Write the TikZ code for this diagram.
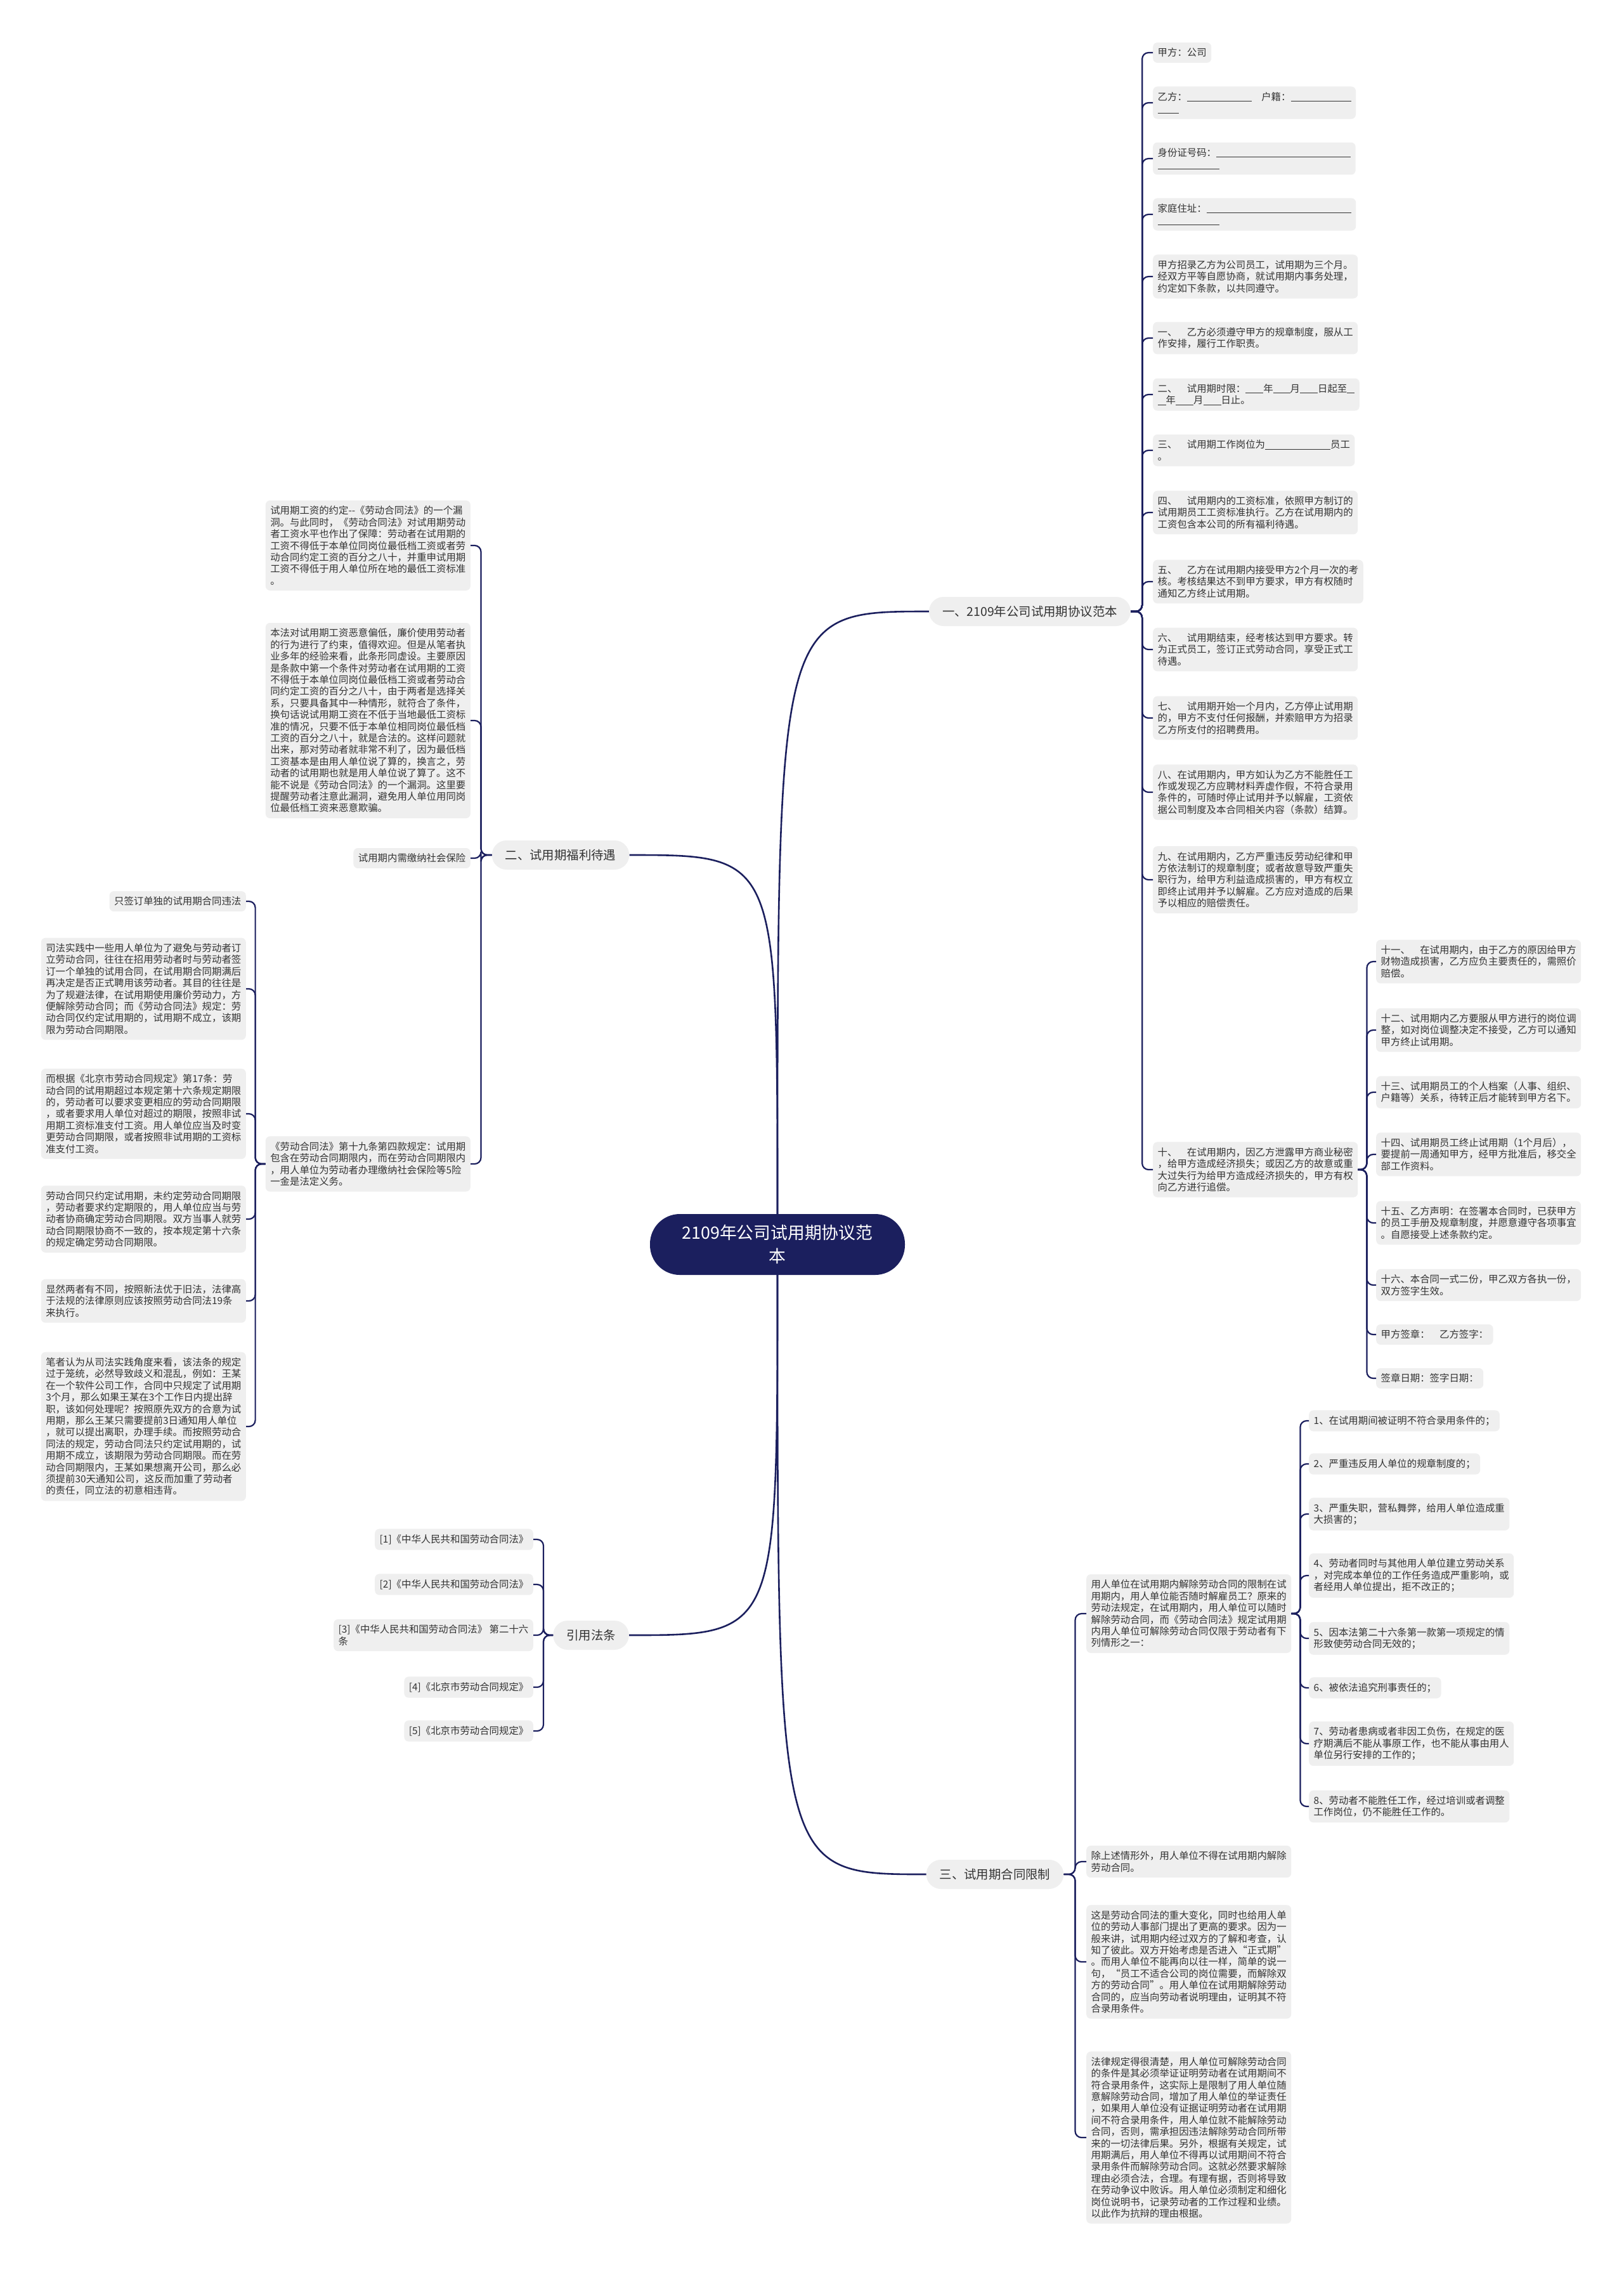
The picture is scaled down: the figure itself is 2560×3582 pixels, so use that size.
\documentclass[tikz,border=0pt]{standalone}
\usepackage{fontspec}
\setmainfont{Noto Sans CJK SC}
\usetikzlibrary{calc}
\definecolor{navy}{HTML}{1B1F5E}
\definecolor{leafbg}{HTML}{EFEFEF}
\definecolor{ink}{HTML}{333333}

\newcommand{\fillin}[1]{\rule[-2pt]{#1pt}{0.9pt}}

\begin{document}
\begin{tikzpicture}[
    x=1pt, y=-1pt,
    root/.style={rounded corners=47pt, fill=navy, text=white, align=center,
                 minimum width=402pt, minimum height=96pt,
                 font=\fontsize{26.8}{36.7}\selectfont},
    topic/.style={rounded corners=23pt, fill=leafbg, text=ink,
                  minimum height=46pt, inner xsep=21pt,
                  font=\fontsize{19.4}{23}\selectfont},
    leaf/.style={rounded corners=7pt, fill=leafbg, text=ink, align=left,
                 inner xsep=7.5pt, inner ysep=8.8pt,
                 font=\fontsize{15.4}{18.4}\selectfont},
    link/.style={draw=navy, line width=2.2pt, rounded corners=10pt},
    trunk/.style={draw=navy, line width=2.6pt},
]

\def\rx{1818}   % right column, left edge
\def\tx{2170}   % sub list of item ten
\def\lx{742}    % left column, right edge
\def\kx{388}    % far left column, right edge
\def\fx{841}    % citations, right edge
\def\sx{1713}   % lower right column
\def\ux{2064}   % list of cases

\useasboundingbox (0,0) rectangle (2560,3582);
\fill[white] (0,0) rectangle (2560,3582);

% ── Root and main branches ──
\node[root] (root) at (1226,1962) {2109年公司试用期协议范\\本};
\node[topic] (one)   at (1624,964)  {一、2109年公司试用期协议范本};
\node[topic] (two)   at (884,1348)  {二、试用期福利待遇};
\node[topic] (cite)  at (932,2578)  {引用法条};
\node[topic] (three) at (1569,2955) {三、试用期合同限制};

\draw[trunk] (root.north) .. controls (root.north |- one.west) .. (one.west);
\draw[trunk] (root.north) .. controls (root.north |- two.east) .. (two.east);
\draw[trunk] (root.south) .. controls (root.south |- cite.east) .. (cite.east);
\draw[trunk] (root.south) .. controls (root.south |- three.west) .. (three.west);

% ── Branch one: contract text ──
\node[leaf, anchor=west] (r1) at (\rx,83) {甲方：公司};
\node[leaf, anchor=west] (r2) at (\rx,162) {乙方：\fillin{102}\hspace{1em}户籍：\fillin{95}\\\fillin{33}};
\node[leaf, anchor=west] (r3) at (\rx,250) {身份证号码：\fillin{212}\\\fillin{97}};
\node[leaf, anchor=west] (r4) at (\rx,338) {家庭住址：\fillin{228}\\\fillin{97}};
\node[leaf, anchor=west] (r5) at (\rx,436) {甲方招录乙方为公司员工，试用期为三个月。\\经双方平等自愿协商，就试用期内事务处理，\\约定如下条款，以共同遵守。};
\node[leaf, anchor=west] (r6) at (\rx,533) {一、\hspace{1em}乙方必须遵守甲方的规章制度，服从工\\作安排，履行工作职责。};
\node[leaf, anchor=west] (r7) at (\rx,622) {二、\hspace{1em}试用期时限：\fillin{28}年\fillin{27}月\fillin{28}日起至\fillin{12}\\\fillin{13}年\fillin{28}月\fillin{28}日止。};
\node[leaf, anchor=west] (r8) at (\rx,710) {三、\hspace{1em}试用期工作岗位为\fillin{103}员工\\。};
\node[leaf, anchor=west] (r9) at (\rx,808) {四、\hspace{1em}试用期内的工资标准，依照甲方制订的\\试用期员工工资标准执行。乙方在试用期内的\\工资包含本公司的所有福利待遇。};
\node[leaf, anchor=west] (r10) at (\rx,917) {五、\hspace{1em}乙方在试用期内接受甲方2个月一次的考\\核。考核结果达不到甲方要求，甲方有权随时\\通知乙方终止试用期。};
\node[leaf, anchor=west] (r11) at (\rx,1024) {六、\hspace{1em}试用期结束，经考核达到甲方要求。转\\为正式员工，签订正式劳动合同，享受正式工\\待遇。};
\node[leaf, anchor=west] (r12) at (\rx,1132) {七、\hspace{1em}试用期开始一个月内，乙方停止试用期\\的，甲方不支付任何报酬，并索赔甲方为招录\\乙方所支付的招聘费用。};
\node[leaf, anchor=west] (r13) at (\rx,1249) {八、在试用期内，甲方如认为乙方不能胜任工\\作或发现乙方应聘材料弄虚作假，不符合录用\\条件的，可随时停止试用并予以解雇，工资依\\据公司制度及本合同相关内容（条款）结算。};
\node[leaf, anchor=west] (r14) at (\rx,1387) {九、在试用期内，乙方严重违反劳动纪律和甲\\方依法制订的规章制度；或者故意导致严重失\\职行为，给甲方利益造成损害的，甲方有权立\\即终止试用并予以解雇。乙方应对造成的后果\\予以相应的赔偿责任。};
\node[leaf, anchor=west] (r15) at (\rx,1844) {十、\hspace{1em}在试用期内，因乙方泄露甲方商业秘密\\，给甲方造成经济损失；或因乙方的故意或重\\大过失行为给甲方造成经济损失的，甲方有权\\向乙方进行追偿。};

\foreach \i in {1,...,15}
    \draw[link] (one.east) -- ++(18,0) |- (r\i.west);

% ── Sub list under item ten ──
\node[leaf, anchor=west] (t1) at (\tx,1516) {十一、\hspace{1em}在试用期内，由于乙方的原因给甲方\\财物造成损害，乙方应负主要责任的，需照价\\赔偿。};
\node[leaf, anchor=west] (t2) at (\tx,1624) {十二、试用期内乙方要服从甲方进行的岗位调\\整，如对岗位调整决定不接受，乙方可以通知\\甲方终止试用期。};
\node[leaf, anchor=west] (t3) at (\tx,1722) {十三、试用期员工的个人档案（人事、组织、\\户籍等）关系，待转正后才能转到甲方名下。};
\node[leaf, anchor=west] (t4) at (\tx,1820) {十四、试用期员工终止试用期（1个月后），\\要提前一周通知甲方，经甲方批准后，移交全\\部工作资料。};
\node[leaf, anchor=west] (t5) at (\tx,1928) {十五、乙方声明：在签署本合同时，已获甲方\\的员工手册及规章制度，并愿意遵守各项事宜\\。自愿接受上述条款约定。};
\node[leaf, anchor=west] (t6) at (\tx,2026) {十六、本合同一式二份，甲乙双方各执一份，\\双方签字生效。};
\node[leaf, anchor=west] (t7) at (\tx,2104) {甲方签章：\hspace{1em}乙方签字：};
\node[leaf, anchor=west] (t8) at (\tx,2173) {签章日期：签字日期：};

\foreach \i in {1,...,8}
    \draw[link] (r15.east) -- ++(14,0) |- (t\i.west);

% ── Branch two: wages and insurance ──
\node[leaf, anchor=east] (l1) at (\lx,860) {试用期工资的约定-{}-《劳动合同法》的一个漏\\洞。与此同时，《劳动合同法》对试用期劳动\\者工资水平也作出了保障：劳动者在试用期的\\工资不得低于本单位同岗位最低档工资或者劳\\动合同约定工资的百分之八十，并重申试用期\\工资不得低于用人单位所在地的最低工资标准\\。};
\node[leaf, anchor=east] (l2) at (\lx,1136) {本法对试用期工资恶意偏低，廉价使用劳动者\\的行为进行了约束，值得欢迎。但是从笔者执\\业多年的经验来看，此条形同虚设。主要原因\\是条款中第一个条件对劳动者在试用期的工资\\不得低于本单位同岗位最低档工资或者劳动合\\同约定工资的百分之八十，由于两者是选择关\\系，只要具备其中一种情形，就符合了条件，\\换句话说试用期工资在不低于当地最低工资标\\准的情况，只要不低于本单位相同岗位最低档\\工资的百分之八十，就是合法的。这样问题就\\出来，那对劳动者就非常不利了，因为最低档\\工资基本是由用人单位说了算的，换言之，劳\\动者的试用期也就是用人单位说了算了。这不\\能不说是《劳动合同法》的一个漏洞。这里要\\提醒劳动者注意此漏洞，避免用人单位用同岗\\位最低档工资来恶意欺骗。};
\node[leaf, anchor=east] (l3) at (\lx,1353) {试用期内需缴纳社会保险};
\node[leaf, anchor=east] (l4) at (\lx,1835) {《劳动合同法》第十九条第四款规定：试用期\\包含在劳动合同期限内，而在劳动合同期限内\\，用人单位为劳动者办理缴纳社会保险等5险\\一金是法定义务。};

\foreach \i in {1,...,4}
    \draw[link] (two.west) -- ++(-17,0) |- (l\i.east);

% ── Under article 19 ──
\node[leaf, anchor=east] (k1) at (\kx,1421) {只签订单独的试用期合同违法};
\node[leaf, anchor=east] (k2) at (\kx,1559) {司法实践中一些用人单位为了避免与劳动者订\\立劳动合同，往往在招用劳动者时与劳动者签\\订一个单独的试用合同，在试用期合同期满后\\再决定是否正式聘用该劳动者。其目的往往是\\为了规避法律，在试用期使用廉价劳动力，方\\便解除劳动合同；而《劳动合同法》规定：劳\\动合同仅约定试用期的，试用期不成立，该期\\限为劳动合同期限。};
\node[leaf, anchor=east] (k3) at (\kx,1756) {而根据《北京市劳动合同规定》第17条：劳\\动合同的试用期超过本规定第十六条规定期限\\的，劳动者可以要求变更相应的劳动合同期限\\，或者要求用人单位对超过的期限，按照非试\\用期工资标准支付工资。用人单位应当及时变\\更劳动合同期限，或者按照非试用期的工资标\\准支付工资。};
\node[leaf, anchor=east] (k4) at (\kx,1922) {劳动合同只约定试用期，未约定劳动合同期限\\，劳动者要求约定期限的，用人单位应当与劳\\动者协商确定劳动合同期限。双方当事人就劳\\动合同期限协商不一致的，按本规定第十六条\\的规定确定劳动合同期限。};
\node[leaf, anchor=east] (k5) at (\kx,2051) {显然两者有不同，按照新法优于旧法，法律高\\于法规的法律原则应该按照劳动合同法19条\\来执行。};
\node[leaf, anchor=east] (k6) at (\kx,2249) {笔者认为从司法实践角度来看，该法条的规定\\过于笼统，必然导致歧义和混乱，例如：王某\\在一个软件公司工作，合同中只规定了试用期\\3个月，那么如果王某在3个工作日内提出辞\\职，该如何处理呢？按照原先双方的合意为试\\用期，那么王某只需要提前3日通知用人单位\\，就可以提出离职，办理手续。而按照劳动合\\同法的规定，劳动合同法只约定试用期的，试\\用期不成立，该期限为劳动合同期限。而在劳\\动合同期限内，王某如果想离开公司，那么必\\须提前30天通知公司，这反而加重了劳动者\\的责任，同立法的初意相违背。};

\foreach \i in {1,...,6}
    \draw[link] (l4.west) -- ++(-16,0) |- (k\i.east);

% ── Citations ──
\node[leaf, anchor=east] (f1) at (\fx,2427) {[1]《中华人民共和国劳动合同法》};
\node[leaf, anchor=east] (f2) at (\fx,2498) {[2]《中华人民共和国劳动合同法》};
\node[leaf, anchor=east] (f3) at (\fx,2578) {[3]《中华人民共和国劳动合同法》 第二十六\\条};
\node[leaf, anchor=east] (f4) at (\fx,2660) {[4]《北京市劳动合同规定》};
\node[leaf, anchor=east] (f5) at (\fx,2729) {[5]《北京市劳动合同规定》};

\foreach \i in {1,...,5}
    \draw[link] (cite.west) -- ++(-15,0) |- (f\i.east);

% ── Branch three: ending the contract ──
\node[leaf, anchor=west] (s1) at (\sx,2544) {用人单位在试用期内解除劳动合同的限制在试\\用期内，用人单位能否随时解雇员工？原来的\\劳动法规定，在试用期内，用人单位可以随时\\解除劳动合同，而《劳动合同法》规定试用期\\内用人单位可解除劳动合同仅限于劳动者有下\\列情形之一：};
\node[leaf, anchor=west] (s2) at (\sx,2935) {除上述情形外，用人单位不得在试用期内解除\\劳动合同。};
\node[leaf, anchor=west] (s3) at (\sx,3093) {这是劳动合同法的重大变化，同时也给用人单\\位的劳动人事部门提出了更高的要求。因为一\\般来讲，试用期内经过双方的了解和考查，认\\知了彼此。双方开始考虑是否进入“正式期”\\。而用人单位不能再向以往一样，简单的说一\\句，“员工不适合公司的岗位需要，而解除双\\方的劳动合同”。用人单位在试用期解除劳动\\合同的，应当向劳动者说明理由，证明其不符\\合录用条件。};
\node[leaf, anchor=west] (s4) at (\sx,3370) {法律规定得很清楚，用人单位可解除劳动合同\\的条件是其必须举证证明劳动者在试用期间不\\符合录用条件，这实际上是限制了用人单位随\\意解除劳动合同，增加了用人单位的举证责任\\，如果用人单位没有证据证明劳动者在试用期\\间不符合录用条件，用人单位就不能解除劳动\\合同，否则，需承担因违法解除劳动合同所带\\来的一切法律后果。另外，根据有关规定，试\\用期满后，用人单位不得再以试用期间不符合\\录用条件而解除劳动合同。这就必然要求解除\\理由必须合法，合理。有理有据，否则将导致\\在劳动争议中败诉。用人单位必须制定和细化\\岗位说明书，记录劳动者的工作过程和业绩。\\以此作为抗辩的理由根据。};

\foreach \i in {1,...,4}
    \draw[link] (three.east) -- ++(18,0) |- (s\i.west);

% ── Cases allowing dismissal ──
\node[leaf, anchor=west] (u1) at (\ux,2240) {1、在试用期间被证明不符合录用条件的；};
\node[leaf, anchor=west] (u2) at (\ux,2308) {2、严重违反用人单位的规章制度的；};
\node[leaf, anchor=west] (u3) at (\ux,2387) {3、严重失职，营私舞弊，给用人单位造成重\\大损害的；};
\node[leaf, anchor=west] (u4) at (\ux,2484) {4、劳动者同时与其他用人单位建立劳动关系\\，对完成本单位的工作任务造成严重影响，或\\者经用人单位提出，拒不改正的；};
\node[leaf, anchor=west] (u5) at (\ux,2583) {5、因本法第二十六条第一款第一项规定的情\\形致使劳动合同无效的；};
\node[leaf, anchor=west] (u6) at (\ux,2661) {6、被依法追究刑事责任的；};
\node[leaf, anchor=west] (u7) at (\ux,2749) {7、劳动者患病或者非因工负伤，在规定的医\\疗期满后不能从事原工作，也不能从事由用人\\单位另行安排的工作的；};
\node[leaf, anchor=west] (u8) at (\ux,2848) {8、劳动者不能胜任工作，经过培训或者调整\\工作岗位，仍不能胜任工作的。};

\foreach \i in {1,...,8}
    \draw[link] (s1.east) -- ++(14,0) |- (u\i.west);

\end{tikzpicture}
\end{document}
